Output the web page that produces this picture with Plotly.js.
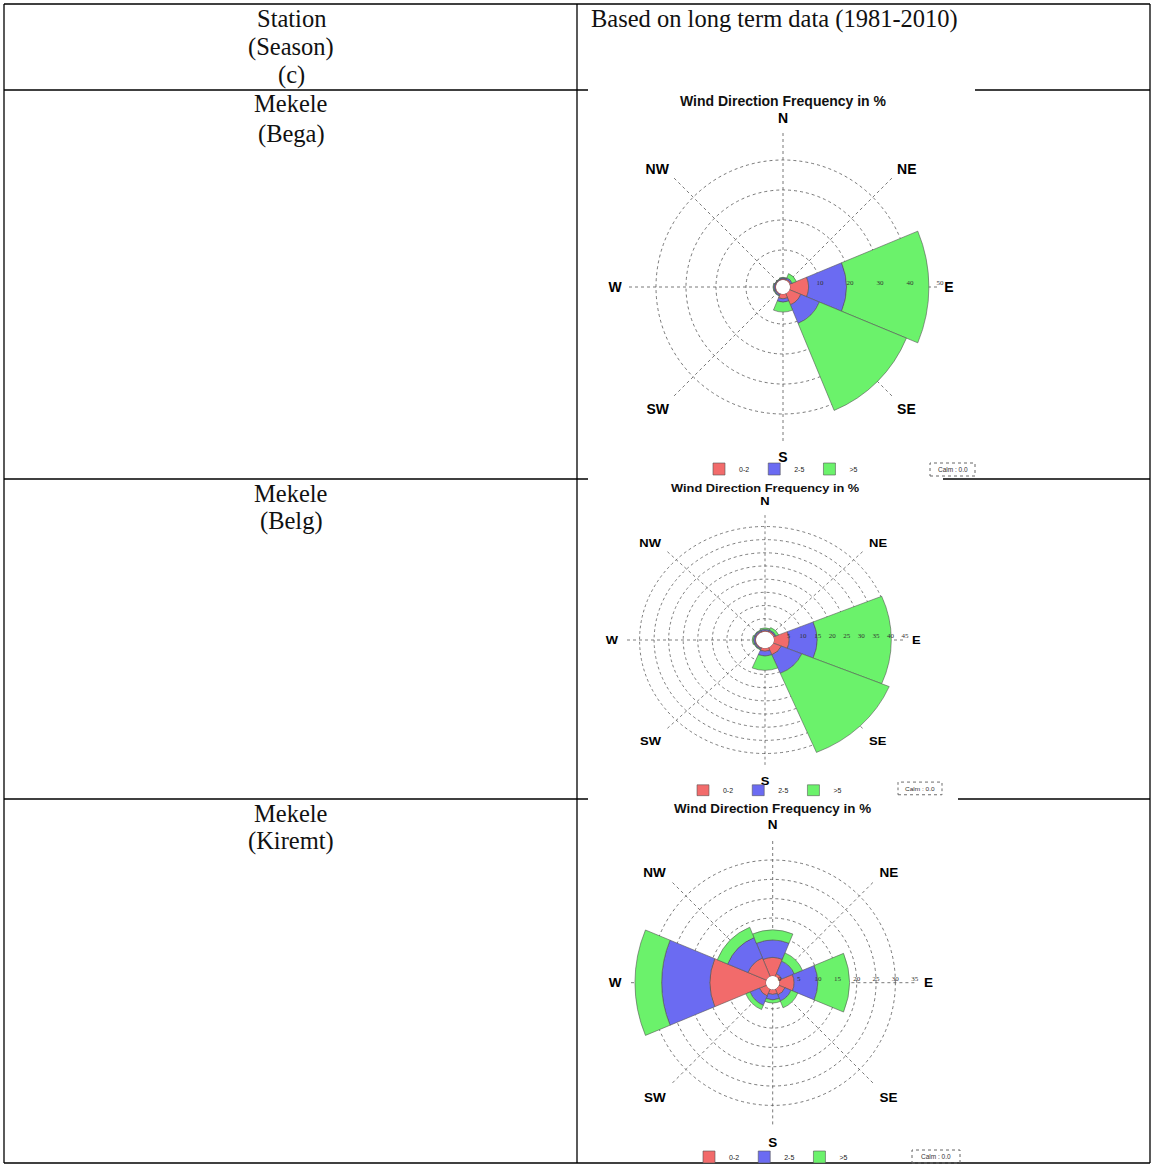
<!DOCTYPE html>
<html><head><meta charset="utf-8">
<script src="https://cdn.plot.ly/plotly-3.0.1.min.js"></script>
<style>
html,body{margin:0;padding:0;background:#fff;overflow:hidden;width:1151px;height:1165px;}
#main{position:absolute;left:0;top:0;width:1151px;height:1165px;}
#belg{position:absolute;left:0;top:0;width:1151px;height:1165px;transform-origin:765px 640px;transform:scaleY(0.905);pointer-events:none;}
</style></head><body>
<div id="main"></div><div id="belg"></div>
<script>
// ---- data ----
const directions = [0, 45, 90, 135, 180, 225, 270, 315];
const directionLabels = ['N', 'NE', 'E', 'SE', 'S', 'SW', 'W', 'NW'];
const speedClasses = ['0-2', '2-5', '>5'];
const classColors = ['#f26b6b', '#6b6bf2', '#6bf26b'];

// Mekele, Bega (% frequency per direction and speed class)
const begaLow  = [0.4, 0.5, 6.2, 4.1, 1.6, 0.4, 0.4, 0.3];
const begaMid  = [0.3, 0.5, 12.6, 6.7, 1.1, 0.4, 0.4, 0.2];
const begaHigh = [0.2, 1.5, 27.5, 31.4, 3.3, 0.2, 0.2, 0.1];
// Mekele, Belg
const belgLow  = [0.5, 0.6, 5.2, 3.0, 1.2, 0.4, 0.4, 0.4];
const belgMid  = [0.5, 0.4, 9.6, 7.6, 1.8, 0.4, 0.5, 0.4];
const belgHigh = [0.5, 1.0, 25.5, 32.5, 5.4, 0.2, 0.4, 0.2];
// Mekele, Kiremt
const kiremtLow  = [4.8, 0.8, 3.8, 1.7, 1.3, 2.0, 14.5, 5.2];
const kiremtMid  = [4.5, 3.5, 6.1, 1.7, 1.4, 2.6, 12.5, 5.7];
const kiremtHigh = [2.6, 2.3, 8.2, 1.9, 0.8, 1.2, 6.9, 2.9];

const begaTicks   = [0, 10, 20, 30, 40, 50];
const belgTicks   = [0, 5, 10, 15, 20, 25, 30, 35, 40, 45];
const kiremtTicks = [0, 5, 10, 15, 20, 25, 30, 35];

const calmBega = '0.0', calmBelg = '0.0', calmKiremt = '0.0';
const chartTitle = 'Wind Direction Frequency in %';

// ---- helpers ----
const W = 1151, H = 1165;
const fx = x => x / W;
const fy = y => 1 - y / H;

function roseTraces(series, subplot, legend) {
  return series.map((vals, i) => ({
    type: 'barpolar',
    r: vals,
    theta: directions,
    width: 45,
    name: speedClasses[i],
    subplot: subplot,
    legend: legend,
    marker: {color: classColors[i], line: {color: '#555', width: 0.6}},
    hoverinfo: 'skip'
  }));
}

function makePolar(cx, cy, R, holePx, maxR, tickVals, zeroLabel, labelSize, tickLen) {
  return {
    domain: {x: [fx(cx - R), fx(cx + R)], y: [fy(cy + R), fy(cy - R)]},
    hole: holePx / R,
    bgcolor: 'rgba(255,255,255,0)',
    barmode: 'stack',
    radialaxis: {
      range: [0, maxR], tickmode: 'array', tickvals: tickVals,
      ticktext: tickVals.map(v => v === 0 ? zeroLabel : String(v)),
      showline: false, ticks: '', angle: 0, side: 'counterclockwise',
      tickfont: {family: 'Liberation Serif', size: 7, color: '#333'},
      gridcolor: '#555', griddash: 'dot', gridwidth: 0.8, layer: 'above traces'
    },
    angularaxis: {
      rotation: 90, direction: 'clockwise', tickmode: 'array',
      tickvals: directions, ticktext: directionLabels,
      showline: false, ticks: tickLen > 0 ? 'outside' : '', ticklen: tickLen, tickcolor: 'rgba(0,0,0,0)',
      tickfont: {family: 'Liberation Sans', size: labelSize, color: '#000', weight: 'bold'},
      gridcolor: '#555', griddash: 'dot', gridwidth: 0.8, layer: 'above traces'
    }
  };
}

function hline(y, x0, x1) {
  return {type: 'line', xref: 'paper', yref: 'paper', x0: fx(x0), x1: fx(x1), y0: fy(y), y1: fy(y), line: {color: '#000', width: 1.3}};
}
function vline(x, y0, y1) {
  return {type: 'line', xref: 'paper', yref: 'paper', x0: fx(x), x1: fx(x), y0: fy(y0), y1: fy(y1), line: {color: '#000', width: 1.3}};
}
function calmBox(x0, y0, x1, y1) {
  return {type: 'rect', xref: 'paper', yref: 'paper', x0: fx(x0), x1: fx(x1), y0: fy(y1), y1: fy(y0), line: {color: '#666', width: 1, dash: 'dot'}, fillcolor: 'rgba(0,0,0,0)'};
}
function txt(text, x, y, size, family, xanchor, color) {
  return {text: text, x: fx(x), y: fy(y), xref: 'paper', yref: 'paper', showarrow: false,
    xanchor: xanchor || 'center', yanchor: 'middle',
    font: {family: family, size: size, color: color || '#111'}};
}
const serif = 'Liberation Serif, Times New Roman, serif';
const sans = 'Liberation Sans, Arial, sans-serif';
const tableSize = 24.5;

function legendAt(x, y) {
  return {x: fx(x), y: fy(y), xanchor: 'center', yanchor: 'middle', orientation: 'h',
    bgcolor: 'rgba(0,0,0,0)', font: {family: sans, size: 7, color: '#222'},
    itemwidth: 30, tracegroupgap: 0};
}

// ---- main figure: table + Bega + Kiremt ----
const mainData = [].concat(
  roseTraces([begaLow, begaMid, begaHigh], 'polar', 'legend'),
  roseTraces([kiremtLow, kiremtMid, kiremtHigh], 'polar2', 'legend2')
);

const mainLayout = {
  width: W, height: H,
  margin: {l: 0, r: 0, t: 0, b: 0, autoexpand: false},
  paper_bgcolor: '#fff',
  showlegend: true,
  polar: makePolar(783, 287, 157, 7, 50, begaTicks, '', 14, 1),
  polar2: makePolar(772.7, 982.7, 142, 6.7, 35, kiremtTicks, '0', 13.5, 6),
  legend: legendAt(781, 469),
  legend2: legendAt(771, 1157),
  shapes: [
    hline(4, 4, 1150), hline(1163, 4, 1150), vline(4, 4, 1163), vline(1150, 4, 1163), vline(577, 4, 1163),
    hline(90, 4, 588), hline(90, 975, 1150),
    hline(479, 4, 588), hline(479, 943, 1150),
    hline(799, 4, 588), hline(799, 958, 1150),
    calmBox(930, 463, 975, 476), calmBox(912, 1150, 960, 1163)
  ],
  annotations: [
    txt('Station', 291, 18, tableSize, serif), txt('(Season)', 291, 47, tableSize, serif), txt('(c)', 291, 75, tableSize, serif),
    txt('Based on long term data (1981-2010)', 589, 19, tableSize, serif, 'left'),
    txt('Mekele', 291, 104, tableSize, serif), txt('(Bega)', 291, 134, tableSize, serif),
    txt('Mekele', 291, 493, tableSize, serif), txt('(Belg)', 291, 521, tableSize, serif),
    txt('Mekele', 291, 813, tableSize, serif), txt('(Kiremt)', 291, 841, tableSize, serif),
    txt('<b>' + chartTitle + '</b>', 783, 101, 14, sans, 'center', '#111'),
    txt('<b>' + chartTitle + '</b>', 772, 808, 13.4, sans, 'center', '#111'),
    txt('Calm : ' + calmBega, 952.5, 469.5, 6.5, sans, 'center', '#333'),
    txt('Calm : ' + calmKiremt, 936, 1156.5, 6.5, sans, 'center', '#333')
  ]
};

// ---- Belg figure (vertically compressed like the reference image) ----
const belgData = roseTraces([belgLow, belgMid, belgHigh], 'polar', 'legend');
const belgLayout = {
  width: W, height: H,
  margin: {l: 0, r: 0, t: 0, b: 0, autoexpand: false},
  paper_bgcolor: 'rgba(0,0,0,0)',
  showlegend: true,
  polar: makePolar(765, 640, 140, 9, 45, belgTicks, '', 13, 4),
  legend: legendAt(765, 806),
  shapes: [calmBox(898, 797, 942, 811)],
  annotations: [
    txt('<b>' + chartTitle + '</b>', 765, 471, 12.8, sans, 'center', '#111'),
    txt('Calm : ' + calmBelg, 920, 804, 6.5, sans, 'center', '#333')
  ]
};

const cfg = {displayModeBar: false, staticPlot: true};
Plotly.newPlot('main', mainData, mainLayout, cfg);
Plotly.newPlot('belg', belgData, belgLayout, cfg);
</script></body></html>
